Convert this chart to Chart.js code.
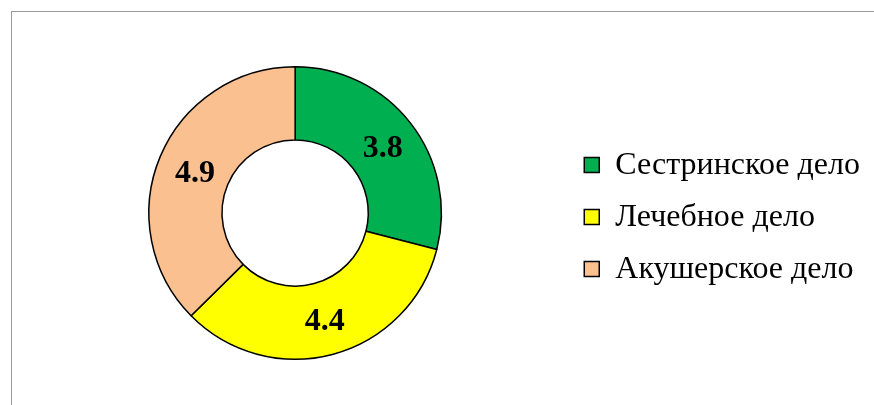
<!DOCTYPE html>
<html>
<head>
<meta charset="utf-8">
<script src="https://cdn.jsdelivr.net/npm/chart.js@4"></script>
<style>
  body { margin: 0; background: #fff; }
  #frame { position: absolute; left: 11px; top: 11px; width: 880px; height: 420px; border: 1px solid #999; }
  #wrap { position: absolute; left: 0; top: 0; width: 874px; height: 405px; }
</style>
</head>
<body>
<div id="frame"></div>
<div id="wrap"><canvas id="myChart"></canvas></div>
<script>
const categories = ['Сестринское дело', 'Лечебное дело', 'Акушерское дело'];
const values = [3.8, 4.4, 4.9];
const colors = ['#00B050', '#FFFF00', '#FAC090'];

// value labels at the middle of each slice
const sliceLabels = {
    id: 'sliceLabels',
    afterDatasetsDraw(chart) {
        const ctx = chart.ctx;
        const meta = chart.getDatasetMeta(0);
        ctx.save();
        ctx.font = 'bold 32px "Liberation Serif"';
        ctx.fillStyle = '#000';
        ctx.textAlign = 'center';
        ctx.textBaseline = 'middle';
        meta.data.forEach(function(arc, i) {
            const p = arc.tooltipPosition();
            ctx.fillText(values[i].toFixed(1), p.x + 1, p.y + 3);
        });
        ctx.restore();
    }
};

const ctx = document.getElementById('myChart').getContext('2d');
const myChart = new Chart(ctx, {
    type: 'doughnut',
    data: {
        labels: categories,
        datasets: [{
            data: values,
            backgroundColor: colors,
            borderColor: '#000',
            borderWidth: 1.5,
            borderAlign: 'center'
        }]
    },
    options: {
        responsive: true,
        maintainAspectRatio: false,
        animation: false,
        cutout: '50%',
        layout: { padding: { top: 66, bottom: 45, left: 26, right: 4 } },
        plugins: {
            tooltip: { enabled: false },
            legend: {
                position: 'right',
                align: 'center',
                // empty title only nudges the items down a little
                title: { display: true, text: '', font: { size: 1 }, padding: { top: 3, bottom: 4 } },
                labels: {
                    boxWidth: 15,
                    boxHeight: 15,
                    padding: 20,
                    color: '#000',
                    font: { family: '"Liberation Serif"', size: 32 }
                }
            }
        }
    },
    plugins: [sliceLabels]
});
</script>
</body>
</html>
